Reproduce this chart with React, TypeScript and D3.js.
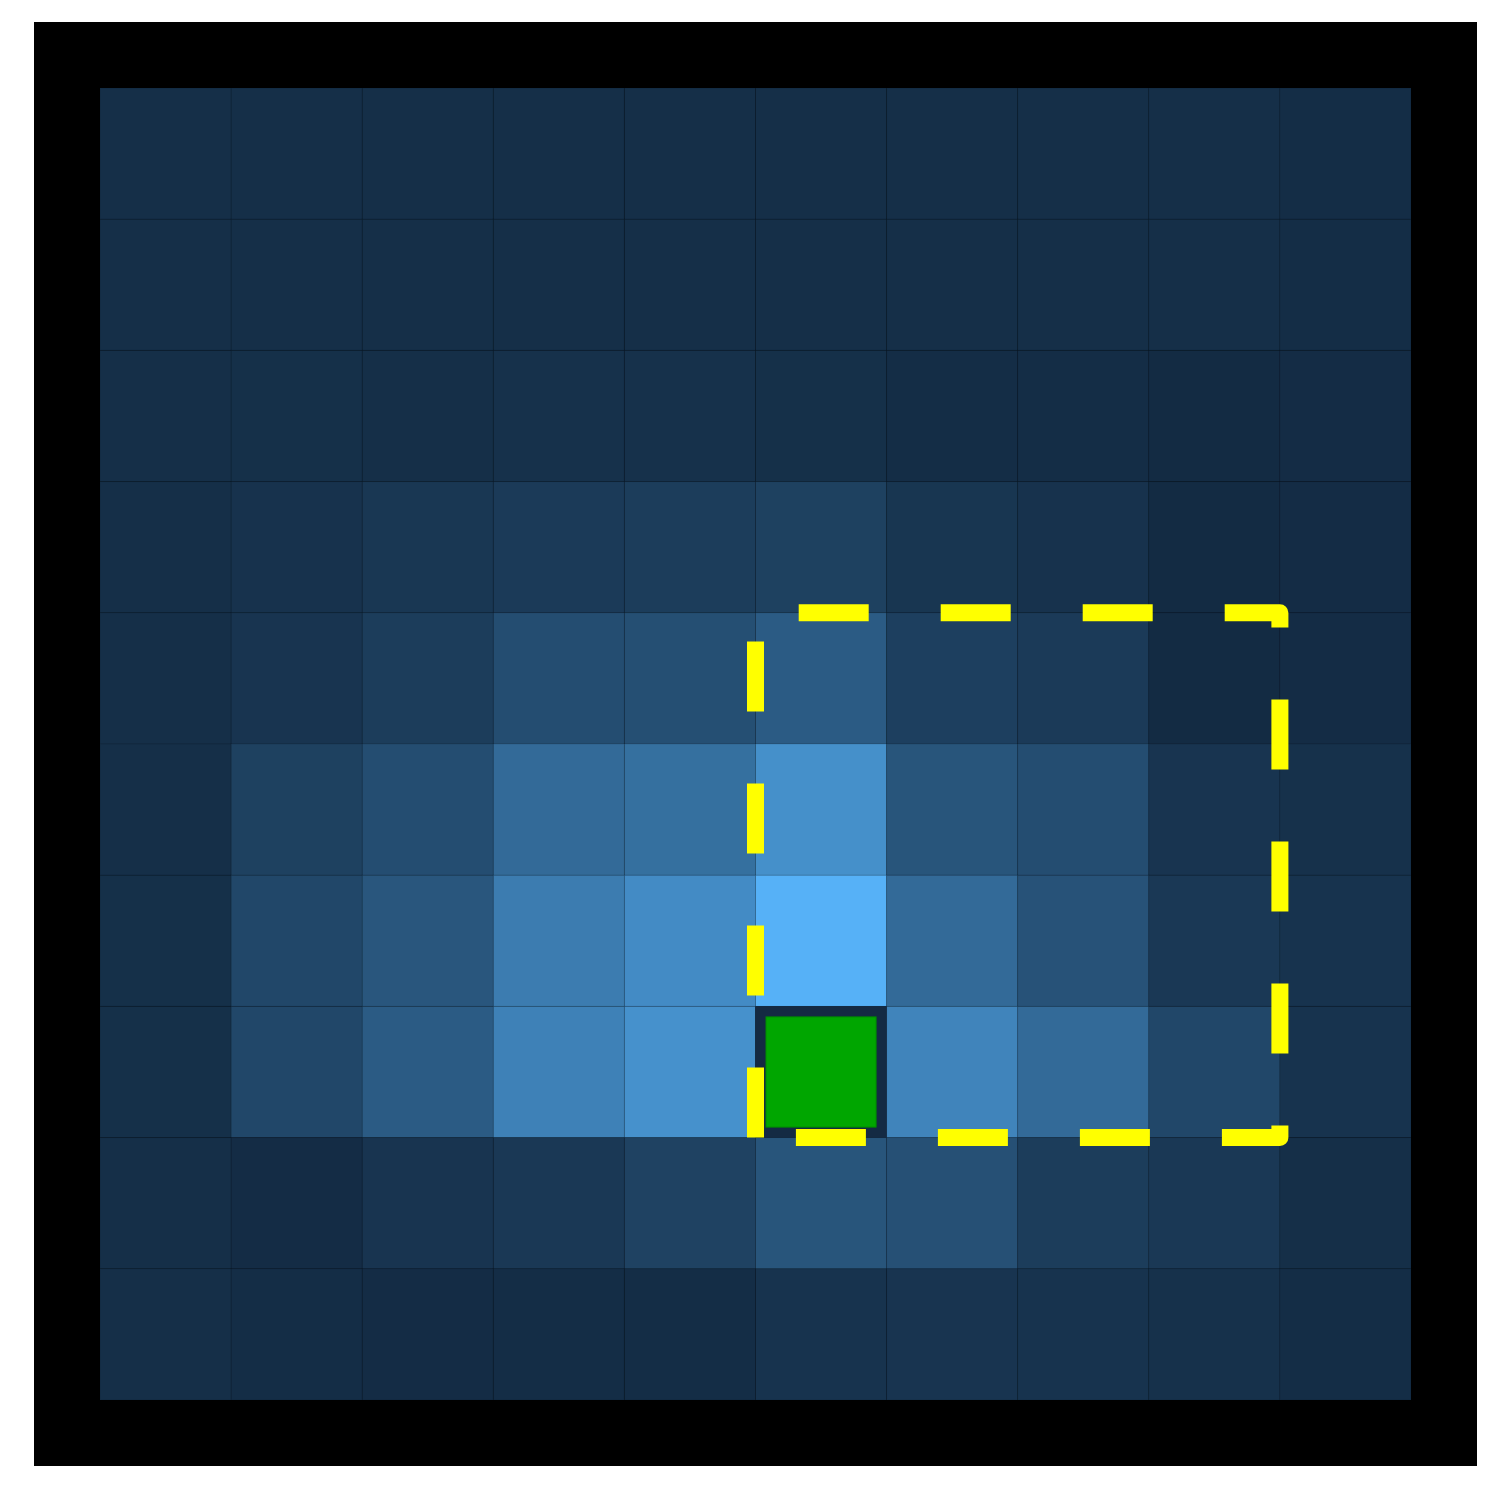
import React from 'react'
import * as d3 from 'd3'

// grid indices
const cols = [0, 1, 2, 3, 4, 5, 6, 7, 8, 9]
const rows = [0, 1, 2, 3, 4, 5, 6, 7, 8, 9]

// intensity per cell, row by row (0 = darkest, 1 = brightest)
const intensity = [
  [0.03, 0.03, 0.03, 0.03, 0.03, 0.03, 0.03, 0.03, 0.03, 0.02],
  [0.03, 0.03, 0.03, 0.03, 0.03, 0.03, 0.03, 0.03, 0.03, 0.02],
  [0.03, 0.04, 0.03, 0.05, 0.05, 0.04, 0.02, 0.02, 0.0, 0.01],
  [0.03, 0.06, 0.1, 0.13, 0.15, 0.18, 0.09, 0.06, 0.0, 0.01],
  [0.03, 0.08, 0.15, 0.28, 0.29, 0.39, 0.17, 0.13, 0.0, 0.01],
  [0.03, 0.18, 0.28, 0.5, 0.54, 0.77, 0.34, 0.28, 0.08, 0.05],
  [0.04, 0.23, 0.35, 0.63, 0.74, 1.0, 0.5, 0.32, 0.11, 0.07],
  [0.04, 0.23, 0.39, 0.67, 0.78, 0.0, 0.69, 0.5, 0.23, 0.07],
  [0.03, 0.01, 0.08, 0.11, 0.19, 0.34, 0.3, 0.15, 0.11, 0.03],
  [0.03, 0.02, 0.01, 0.02, 0.02, 0.07, 0.08, 0.07, 0.05, 0.02]
]

// highlighted cell and dashed selection box (inclusive cell ranges)
const target = { col: 5, row: 7 }
const selection = { colFrom: 5, colTo: 8, rowFrom: 4, rowTo: 7 }

const W = 1500
const H = 1500

export default function App() {
  const x = d3.scaleBand<number>().domain(cols).range([100, 1411])
  const y = d3.scaleBand<number>().domain(rows).range([88, 1400])
  const color = d3
    .scaleLinear<string>()
    .domain([0, 1])
    .range(['#132B43', '#56B1F7'])
    .interpolate(d3.interpolateLab)

  const cells = rows.flatMap(r => cols.map(c => ({ r, c, v: intensity[r][c] })))

  // selection outline, starts bottom-left and runs clockwise
  const x0 = x(selection.colFrom)!
  const x1 = x(selection.colTo)! + x.bandwidth()
  const y0 = y(selection.rowFrom)!
  const y1 = y(selection.rowTo)! + y.bandwidth()
  const box = d3.path()
  box.moveTo(x0, y1)
  box.lineTo(x0, y0)
  box.lineTo(x1, y0)
  box.lineTo(x1, y1)
  box.closePath()

  const tx = x(target.col)!
  const ty = y(target.row)!
  const inset = 10.5

  return (
    <div style={{ position: 'absolute', left: 0, top: 0 }}>
      <svg width={W} height={H} style={{ display: 'block', background: '#fff' }}>
        <rect x={34} y={22} width={1443} height={1444} fill="#000" />
        <g>
          {cells.map(d => (
            <rect
              key={d.r + '-' + d.c}
              x={x(d.c)}
              y={y(d.r)}
              width={x.bandwidth()}
              height={y.bandwidth()}
              fill={color(d.v)}
              stroke="rgba(0,0,0,0.1)"
              strokeWidth={1}
            />
          ))}
        </g>
        <rect x={tx} y={ty} width={x.bandwidth()} height={y.bandwidth()} fill="#142a43" />
        <rect
          x={tx + inset}
          y={ty + inset}
          width={x.bandwidth() - 2 * inset}
          height={y.bandwidth() - 2 * inset}
          fill="#00a600"
          stroke="#008a00"
          strokeWidth={1}
        />
        <path
          d={box.toString()}
          fill="none"
          stroke="#ffff00"
          strokeWidth={17}
          strokeDasharray="70 72"
          strokeLinejoin="round"
          strokeLinecap="butt"
        />
      </svg>
    </div>
  )
}
